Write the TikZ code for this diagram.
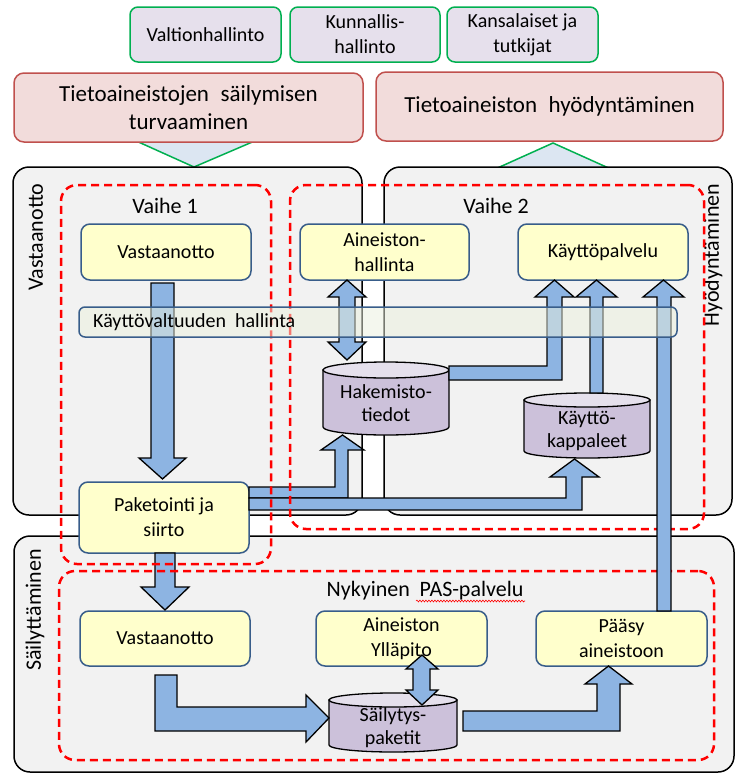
\documentclass[tikz,border=0pt]{standalone}
\usepackage{fontspec}
\setmainfont{Carlito}
\usetikzlibrary{decorations.pathmorphing}
\definecolor{boxgray}{HTML}{F2F2F2}
\definecolor{lavf}{HTML}{E6E0EC}
\definecolor{grn}{HTML}{00B050}
\definecolor{pinkf}{HTML}{F2DCDB}
\definecolor{pinkd}{HTML}{C0504D}
\definecolor{trif}{HTML}{DCE6F2}
\definecolor{yelf}{HTML}{FFFFCC}
\definecolor{nodeb}{HTML}{385D8A}
\definecolor{cylbodyc}{HTML}{CCC1DA}
\definecolor{cyltopc}{HTML}{E5E0EC}
\definecolor{arrowc}{HTML}{8DB4E2}
\definecolor{barf}{HTML}{EBF1DE}
% name, cx, ytop, ybot, rx, ry, text
\newcommand\mycyl[7]{%
  \filldraw[fill=cylbodyc, draw=black, line width=1.3pt]
    (#2-#5,#3+#6) -- (#2-#5,#4-#6)
    arc[start angle=180, end angle=360, x radius=#5pt, y radius=#6pt]
    -- (#2+#5,#3+#6) -- cycle;
  \filldraw[fill=cyltopc, draw=black, line width=1.3pt]
    (#2,#3+#6) ellipse [x radius=#5pt, y radius=#6pt];
  \node[ctext] (#1) at (#2,{(#3+#4)/2+5}) {#7};
}
\begin{document}
\begin{tikzpicture}[x=1pt,y=-1pt,
  topbox/.style={draw=grn, line width=1.5pt, fill=lavf, rounded corners=8pt,
    minimum width=151pt, minimum height=55pt, align=center,
    font=\fontsize{20}{25}\selectfont, inner sep=0pt},
  redbox/.style={draw=pinkd, line width=1.5pt, fill=pinkf, rounded corners=10pt,
    minimum width=349pt, minimum height=69pt, align=center,
    font=\fontsize{23}{28}\selectfont, inner sep=0pt},
  tri/.style={fill=trif, draw=grn, line width=1.5pt},
  bigbox/.style={draw=black, line width=1.5pt, fill=boxgray, rounded corners=16pt, inner sep=0pt},
  ybox/.style={draw=nodeb, line width=1.5pt, fill=yelf, rounded corners=9pt,
    minimum width=170pt, minimum height=56pt, align=center,
    font=\fontsize{20}{25}\selectfont, inner sep=0pt},
  phase/.style={draw=red, line width=2.5pt, dash pattern=on 8pt off 5pt,
    rounded corners=16pt, inner sep=0pt},
  sidelbl/.style={rotate=90, font=\fontsize{22}{26}\selectfont, inner sep=0pt},
  ttl/.style={font=\fontsize{22}{26}\selectfont, inner sep=0pt},
  blk/.style={fill=arrowc, draw=black, line width=1.3pt, line join=miter},
  ctext/.style={align=center, font=\fontsize{20}{23}\selectfont, inner sep=0pt},
  barbox/.style={draw=nodeb, line width=1.5pt, fill=barf, fill opacity=0.5,
    rounded corners=6pt, inner sep=0pt}
]
\useasboundingbox[fill=white] (0,0) rectangle (737,779);

% funnels
\draw[tri] (134,140) -- (257,140) -- (194,167) -- cycle;
\draw[tri] (553,143) -- (613,170) -- (493,170) -- cycle;

% stakeholder boxes
\node[topbox] (valt) at (205.5,34.5) {Valtionhallinto};
\node[topbox, minimum width=150pt] (kunn) at (365,34.5) {Kunnallis-\\hallinto};
\node[topbox] (kans) at (522.5,34.5) {Kansalaiset ja\\tutkijat};

% goal boxes
\node[redbox] (turv) at (188.5,107.5) {Tietoaineistojen\hspace{0.5em}säilymisen\\turvaaminen};
\node[redbox, minimum width=347pt] (hyod) at (549.5,106.5) {Tietoaineiston\hspace{0.5em}hyödyntäminen};

% big areas
\node[bigbox, minimum width=349pt, minimum height=348pt] (vbox) at (187.5,341) {};
\node[bigbox, minimum width=348pt, minimum height=348pt] (hbox) at (558,341) {};
\node[bigbox, minimum width=720pt, minimum height=236pt] (sbox) at (374,654) {};

\node[sidelbl] (lv) at (36,237) {Vastaanotto};
\node[sidelbl] (lh) at (713,255) {Hyödyntäminen};
\node[sidelbl] (ls) at (35,610) {Säilyttäminen};

% process nodes
\node[ybox] (v1) at (166,252) {Vastaanotto};
\node[ybox, minimum width=169pt] (ah) at (384.5,252) {Aineiston-\\hallinta};
\node[ybox] (kp) at (603,252) {Käyttöpalvelu};
\node[ybox, minimum height=71pt] (pak) at (164,517.5) {Paketointi ja\\siirto};
\node[ybox, minimum height=55pt] (v2) at (165,638.5) {Vastaanotto};
\node[ybox, minimum width=171pt, minimum height=55pt] (yp) at (401.5,638.5) {Aineiston\\Ylläpito};
\node[ybox, minimum width=171pt, minimum height=55pt] (pa) at (621.5,638.5) {Pääsy\\aineistoon};

% storages
\mycyl{hak}{386}{362}{435}{63}{8}{Hakemisto-\\tiedot}
\mycyl{kk}{587}{393}{458}{63}{7}{Käyttö-\\kappaleet}
\mycyl{sp}{393}{693}{752}{64}{7}{Säilytys-\\paketit}

% block arrows
% Vastaanotto -> Paketointi
\draw[blk] (151,283) -- (174,283) -- (174,458) -- (186,458) -- (162.5,479)
  -- (139,458) -- (151,458) -- cycle;
% Aineistonhallinta <-> Hakemistotiedot
\draw[blk] (347,280) -- (366,297) -- (355,297) -- (355,342) -- (366,342)
  -- (347,360) -- (328,342) -- (339,342) -- (339,297) -- (328,297) -- cycle;
% Hakemistotiedot -> Kayttopalvelu
\draw[blk] (449,366) -- (547,366) -- (547,297) -- (535,297) -- (554.5,280)
  -- (574,297) -- (562,297) -- (562,380) -- (449,380) -- cycle;
% Kayttokappaleet -> Kayttopalvelu
\draw[blk] (590,393) -- (590,297) -- (576,297) -- (596.5,280) -- (617,297)
  -- (603,297) -- (603,393) -- cycle;
% Paketointi -> Hakemistotiedot
\draw[blk] (249,487) -- (335,487) -- (335,450) -- (321,450) -- (342.5,435)
  -- (364,450) -- (348,450) -- (348,498) -- (249,498) -- cycle;
% Paketointi -> Kayttokappaleet
\draw[blk] (249,498) -- (566,498) -- (566,477) -- (550,477) -- (574.5,459)
  -- (599,477) -- (582,477) -- (582,510) -- (249,510) -- cycle;
% Paketointi -> Vastaanotto (PAS)
\draw[blk] (155,553) -- (175,553) -- (175,587) -- (189,587) -- (165,610)
  -- (141,587) -- (155,587) -- cycle;
% Vastaanotto -> Sailytyspaketit
\draw[blk] (155,675) -- (177,675) -- (177,707) -- (306,707) -- (306,695)
  -- (329,718) -- (306,742) -- (306,731) -- (155,731) -- cycle;
% Yllapito <-> Sailytyspaketit
\draw[blk] (422,655) -- (438,669) -- (430,669) -- (430,690) -- (438,690)
  -- (422,705) -- (406,690) -- (413,690) -- (413,669) -- (406,669) -- cycle;
% Sailytyspaketit -> Paasy
\draw[blk] (463,711) -- (597,711) -- (597,684) -- (585,684) -- (608.5,666)
  -- (632,684) -- (620,684) -- (620,731) -- (463,731) -- cycle;

% phases
\node[phase, minimum width=210pt, minimum height=379pt] (ph1) at (166,374.5) {};
\node[phase, minimum width=414pt, minimum height=344pt] (ph2) at (497,357) {};
\node[phase, minimum width=655pt, minimum height=189pt] (pas) at (386.5,665.5) {};
\node[ttl] (t1) at (165,206) {Vaihe 1};
\node[ttl] (t2) at (496,206) {Vaihe 2};
\node[ttl] (t3) at (425,591) {Nykyinen\hspace{0.45em}PAS-palvelu};
\draw[red, line width=0.6pt, decorate, decoration={snake, amplitude=0.9pt, segment length=3pt}]
  (416,601) -- (525,601);

% Paasy -> Kayttopalvelu (long)
\draw[blk] (657,611) -- (657,297) -- (643,297) -- (663.5,280) -- (684,297)
  -- (671,297) -- (671,611) -- cycle;

% access management bar
\node[barbox, minimum width=598pt, minimum height=30pt] (bar) at (378,322) {};
\node[anchor=west, inner sep=0pt, font=\fontsize{20}{24}\selectfont] (barlbl) at (93,322)
  {Käyttövaltuuden\hspace{0.45em}hallinta};
\end{tikzpicture}
\end{document}
